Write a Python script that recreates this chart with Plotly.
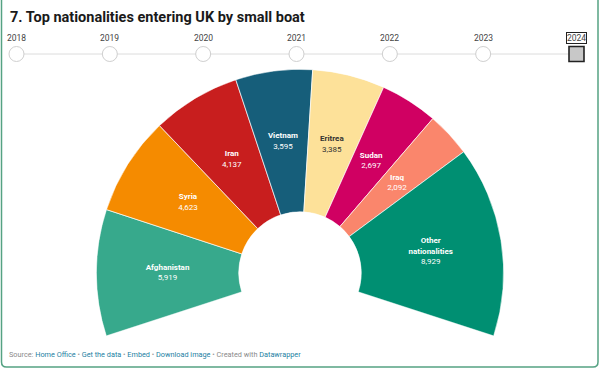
import math
import plotly.graph_objects as go

# ---- data ----
countries = ["Afghanistan", "Syria", "Iran", "Vietnam", "Eritrea", "Sudan", "Iraq", "Other<br>nationalities"]
arrivals = [5919, 4623, 4137, 3595, 3385, 2697, 2092, 8929]
years = [2018, 2019, 2020, 2021, 2022, 2023, 2024]
selected_year = 2024

# ---- styles ----
colors = ["#37a98c", "#f58b00", "#c81e1e", "#165e7a", "#fde199", "#d00062", "#fa866c", "#008f72"]
label_colors = ["#ffffff", "#ffffff", "#ffffff", "#ffffff", "#333333", "#ffffff", "#ffffff", "#ffffff"]
FONT = "Roboto, sans-serif"
W, H = 600, 371
BELOW = 18.0                      # degrees the arc extends below horizontal
START, SPAN = 180 + BELOW, 180 + 2 * BELOW

total = sum(arrivals)
widths, centers = [], []
cum = 0.0
for v in arrivals:
    w = SPAN * v / total
    widths.append(w)
    centers.append(START - cum - w / 2)
    cum += w

def px(x):
    return x / W

def py(y):
    return 1 - y / H

fig = go.Figure()

fig.add_trace(go.Barpolar(
    r=[1] * len(arrivals), theta=centers, width=widths, base=0,
    marker=dict(color=colors, line=dict(color="rgba(255,255,255,0.85)", width=0.8)),
    hoverinfo="skip", showlegend=False,
))

fig.add_trace(go.Scatterpolar(
    r=[0.5] * len(arrivals), theta=centers, mode="text",
    text=[f"<b>{c}</b><br>{v:,}" for c, v in zip(countries, arrivals)],
    textfont=dict(family=FONT, size=8, color=label_colors),
    textposition="middle center", hoverinfo="skip", showlegend=False,
))

# ---- timeline ----
TRACK = 0.4
fig.add_trace(go.Scatter(
    x=[years[0], years[-1]], y=[TRACK, TRACK], mode="lines",
    line=dict(color="#dcdcdc", width=1), cliponaxis=False,
    hoverinfo="skip", showlegend=False,
))
inactive = [y for y in years if y != selected_year]
fig.add_trace(go.Scatter(
    x=inactive, y=[TRACK] * len(inactive), mode="markers", cliponaxis=False,
    marker=dict(symbol="circle", size=15, color="white", line=dict(color="#cfcfcf", width=1)),
    hoverinfo="skip", showlegend=False,
))
fig.add_trace(go.Scatter(
    x=[selected_year], y=[TRACK], mode="markers", cliponaxis=False,
    marker=dict(symbol="square", size=15, color="#c8c8c8", line=dict(color="#222222", width=1.6)),
    hoverinfo="skip", showlegend=False,
))

annotations = []
for y in years:
    sel = (y == selected_year)
    annotations.append(dict(
        x=y, y=0.8, xref="x", yref="y", text=str(y), showarrow=False,
        font=dict(family=FONT, size=8.5, color="#444444"),
        bordercolor="#222222" if sel else "rgba(0,0,0,0)", borderwidth=1 if sel else 0,
        borderpad=0,
    ))

annotations.append(dict(
    x=px(8), y=py(17), xref="paper", yref="paper", xanchor="left", yanchor="middle",
    text="<b>7. Top nationalities entering UK by small boat</b>", showarrow=False,
    font=dict(family=FONT, size=14.5, color="#1a1a1a"),
))

link = "#1d7fa3"
sep = " <span style='color:#999'>•</span> "
footer = ("Source: " + f"<span style='color:{link}'>Home Office</span>" + sep +
          f"<span style='color:{link}'>Get the data</span>" + sep +
          f"<span style='color:{link}'>Embed</span>" + sep +
          f"<span style='color:{link}'>Download image</span>" + sep +
          f"Created with <span style='color:{link}'>Datawrapper</span>")
annotations.append(dict(
    x=px(7), y=py(354), xref="paper", yref="paper", xanchor="left", yanchor="middle",
    text=footer, showarrow=False, font=dict(family=FONT, size=7.3, color="#8a8a8a"),
))

# card border
bx0, bx1, by1, rad = 1.5, 598, 367, 5
path = (f"M {px(bx0)} {py(-5)} L {px(bx0)} {py(by1 - rad)} "
        f"Q {px(bx0)} {py(by1)} {px(bx0 + rad)} {py(by1)} "
        f"L {px(bx1 - rad)} {py(by1)} Q {px(bx1)} {py(by1)} {px(bx1)} {py(by1 - rad)} "
        f"L {px(bx1)} {py(-5)}")

R_OUT = 203.7
CX, CY = 300, 273
x0, x1 = CX - R_OUT, CX + R_OUT
y0, y1 = CY - R_OUT, CY + R_OUT * math.sin(math.radians(BELOW))

fig.update_layout(
    width=W, height=H, margin=dict(l=0, r=0, t=0, b=0),
    paper_bgcolor="white", plot_bgcolor="white",
    polar=dict(
        domain=dict(x=[px(x0), px(x1)], y=[py(y1), py(y0)]),
        sector=[-BELOW, 180 + BELOW], hole=61.2 / R_OUT, bgcolor="white",
        radialaxis=dict(range=[0, 1], visible=False),
        angularaxis=dict(visible=False, showgrid=False, showline=False, ticks=""),
    ),
    xaxis=dict(domain=[px(16.5), px(576.5)], range=[years[0], years[-1]], visible=False, fixedrange=True),
    yaxis=dict(domain=[py(70), py(30)], range=[0, 1], visible=False, fixedrange=True),
    annotations=annotations,
    shapes=[dict(type="path", path=path, xref="paper", yref="paper",
                 line=dict(color="#55a283", width=1.5))],
    showlegend=False,
)

fig.write_html("out.html", config={"displayModeBar": False},
               post_script="document.body.style.margin='0';document.body.style.overflow='hidden';")
